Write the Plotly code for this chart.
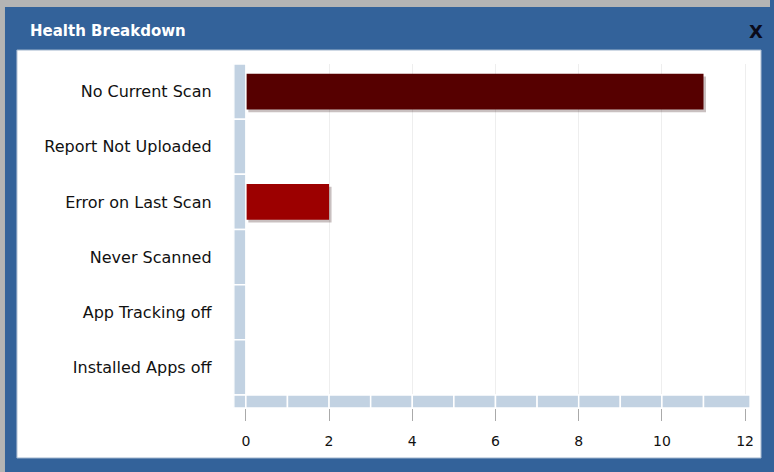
import plotly.graph_objects as go

# ---- data ----
categories = ["No Current Scan", "Report Not Uploaded", "Error on Last Scan",
              "Never Scanned", "App Tracking off", "Installed Apps off"]
values = [11, 0, 2, 0, 0, 0]
bar_colors = ["#560000", "#560000", "#9c0000", "#9c0000", "#9c0000", "#9c0000"]
x_ticks = [0, 2, 4, 6, 8, 10, 12]
title_text = "Health Breakdown"

W, H = 774, 472
def px(x): return x / W
def py(y): return 1 - y / H

band = "#c2d2e2"
bar_w = 0.65
n = len(categories)
idx = list(range(n))

fig = go.Figure()

# shadow
fig.add_trace(go.Bar(
    y=idx, x=values, orientation="h", base=0.06,
    width=bar_w, offset=-bar_w / 2 + 0.05,
    marker=dict(color="rgba(60,30,30,0.28)", line=dict(width=0)),
    hoverinfo="skip", showlegend=False))
# bars
fig.add_trace(go.Bar(
    y=idx, x=values, orientation="h",
    width=bar_w, offset=-bar_w / 2,
    marker=dict(color=bar_colors, line=dict(width=0)),
    showlegend=False))

shapes = []
# gray outer strip + blue dialog
shapes.append(dict(type="rect", xref="paper", yref="paper", x0=0, x1=1, y0=0, y1=1,
                   fillcolor="#b4b4b4", line=dict(width=0), layer="below"))
shapes.append(dict(type="rect", xref="paper", yref="paper", x0=px(5), x1=1, y0=0, y1=py(7),
                   fillcolor="#33629a", line=dict(width=0), layer="below"))
# white panel
shapes.append(dict(type="rect", xref="paper", yref="paper", x0=px(17), x1=px(765),
                   y0=py(458), y1=py(50), fillcolor="white",
                   line=dict(color="#9fb4cc", width=1), layer="below"))

x_lo = -0.29
x_hi = 12.12
# left axis band segments
for i in idx:
    shapes.append(dict(type="rect", xref="x", yref="y", x0=x_lo, x1=0,
                       y0=i - 0.5, y1=i + 0.5, fillcolor=band,
                       line=dict(color="white", width=1.5), layer="above"))
# bottom axis band segments
edges = [x_lo] + list(range(0, 13))
edges[-1] = x_hi
for a, b in zip(edges[:-1], edges[1:]):
    shapes.append(dict(type="rect", xref="x", yref="y", x0=a, x1=b,
                       y0=n - 0.5, y1=n - 0.5 + 0.235, fillcolor=band,
                       line=dict(color="white", width=1.5), layer="above"))

fig.update_layout(
    width=W, height=H,
    margin=dict(l=0, r=0, t=0, b=0),
    paper_bgcolor="#33629a",
    plot_bgcolor="rgba(0,0,0,0)",
    barmode="overlay",
    shapes=shapes,
    font=dict(family="DejaVu Sans", size=16, color="#111111"),
    xaxis=dict(domain=[px(235), px(754)], range=[x_lo, x_hi],
               tickvals=x_ticks, ticktext=[str(t) for t in x_ticks],
               tickfont=dict(size=14),
               ticks="outside", ticklen=12, tickcolor="#aaaaaa", tickwidth=1,
               showgrid=True, gridcolor="#eeeeee", gridwidth=1,
               zeroline=False, showline=False, fixedrange=True,
               ticklabelstandoff=8),
    yaxis=dict(domain=[py(408), py(64)], range=[n - 0.5 + 0.235, -0.5],
               tickvals=idx, ticktext=categories,
               ticks="outside", ticklen=18, tickcolor="rgba(0,0,0,0)",
               showgrid=False, zeroline=False, showline=False, fixedrange=True),
    annotations=[
        dict(text="<b>" + title_text + "</b>", xref="paper", yref="paper",
             x=px(28), y=py(31), xanchor="left", yanchor="middle", showarrow=False,
             font=dict(family="DejaVu Sans", size=15, color="white")),
        dict(text="<b>X</b>", xref="paper", yref="paper",
             x=px(760), y=py(31), xanchor="center", yanchor="middle", showarrow=False,
             font=dict(family="DejaVu Sans", size=18, color="#0a0a1a")),
    ],
)

fig.write_html("out.html", config={"displayModeBar": False},
               post_script="document.body.style.margin='0';document.body.style.padding='0';")
